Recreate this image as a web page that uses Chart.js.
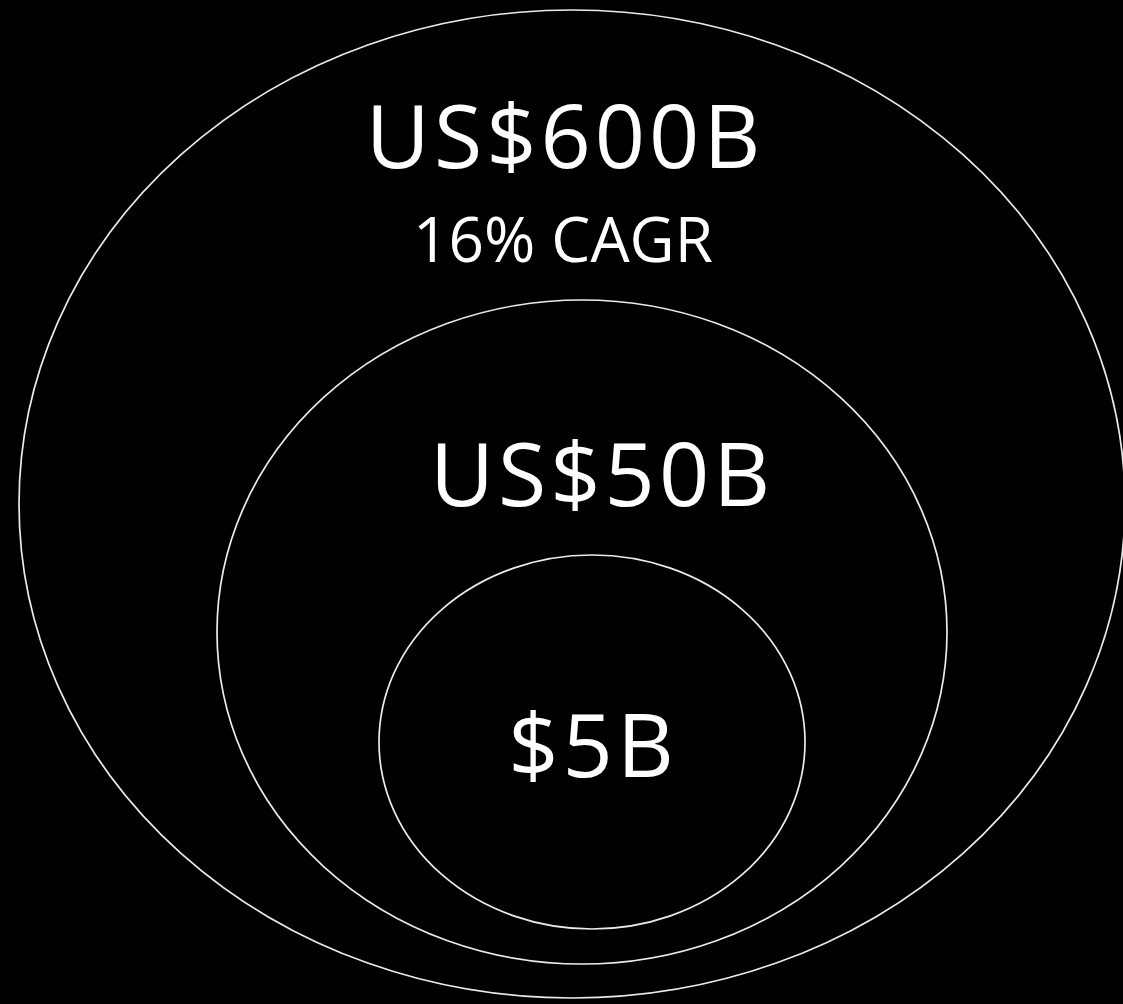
<!DOCTYPE html>
<html>
<head>
<meta charset="utf-8">
<script src="https://cdn.jsdelivr.net/npm/chart.js@4.4.1/dist/chart.umd.min.js"></script>
<style>
  html, body { margin: 0; padding: 0; background: #000; }
  #wrap { width: 1123px; height: 1004px; }
</style>
</head>
<body>
<div id="wrap"><canvas id="grafico" width="1123" height="1004"></canvas></div>
<script>
// market sizes, outer to inner
const mercados = ['US$600B', 'US$50B', '$5B'];
const subtitulos = ['16% CAGR', '', ''];

// ellipse centre and half-axes, in axis units
const centroX = [572, 582, 592];
const centroY = [504, 632, 742];
const raioX = [553, 365, 213];
const raioY = [494, 332, 187];

// where each label sits (axis units, baseline)
const rotuloX = [563, 600, 591];
const rotuloY = [168, 506, 777];

const elipses = {
  id: 'elipses',
  afterDatasetsDraw(chart) {
    const ctx = chart.ctx;
    const x = chart.scales.x;
    const y = chart.scales.y;
    ctx.save();
    ctx.strokeStyle = '#ebebeb';
    ctx.lineWidth = 1.7;
    for (let i = 0; i < mercados.length; i++) {
      const cx = x.getPixelForValue(centroX[i]);
      const cy = y.getPixelForValue(centroY[i]);
      const rx = Math.abs(x.getPixelForValue(centroX[i] + raioX[i]) - cx);
      const ry = Math.abs(y.getPixelForValue(centroY[i] + raioY[i]) - cy);
      ctx.beginPath();
      ctx.ellipse(cx, cy, rx, ry, 0, 0, Math.PI * 2);
      ctx.stroke();
    }
    ctx.fillStyle = '#ffffff';
    ctx.textAlign = 'center';
    ctx.textBaseline = 'alphabetic';
    for (let i = 0; i < mercados.length; i++) {
      const lx = x.getPixelForValue(rotuloX[i]);
      const ly = y.getPixelForValue(rotuloY[i]);
      ctx.font = '88px "Open Sans"';
      ctx.letterSpacing = '4px';
      ctx.fillText(mercados[i], lx + 2, ly);
      if (subtitulos[i]) {
        ctx.font = '62px "Open Sans"';
        ctx.letterSpacing = '0px';
        ctx.fillText(subtitulos[i], lx, ly + 94);
      }
    }
    ctx.restore();
  },
};

function configurar() {
  const canvas = document.getElementById('grafico');
  new Chart(canvas, {
    type: 'scatter',
    data: {
      datasets: [
        {
          label: 'Mercado',
          data: centroX.map((v, i) => ({ x: v, y: centroY[i] })),
          pointRadius: 0,
          pointHoverRadius: 0,
        },
      ],
    },
    options: {
      responsive: false,
      animation: false,
      layout: { padding: 0 },
      plugins: {
        legend: { display: false },
        tooltip: { enabled: false },
      },
      scales: {
        x: { type: 'linear', min: 0, max: 1123, display: false },
        y: { type: 'linear', min: 0, max: 1004, reverse: true, display: false },
      },
    },
    plugins: [elipses],
  });
}

document.addEventListener('DOMContentLoaded', configurar);
</script>
</body>
</html>
